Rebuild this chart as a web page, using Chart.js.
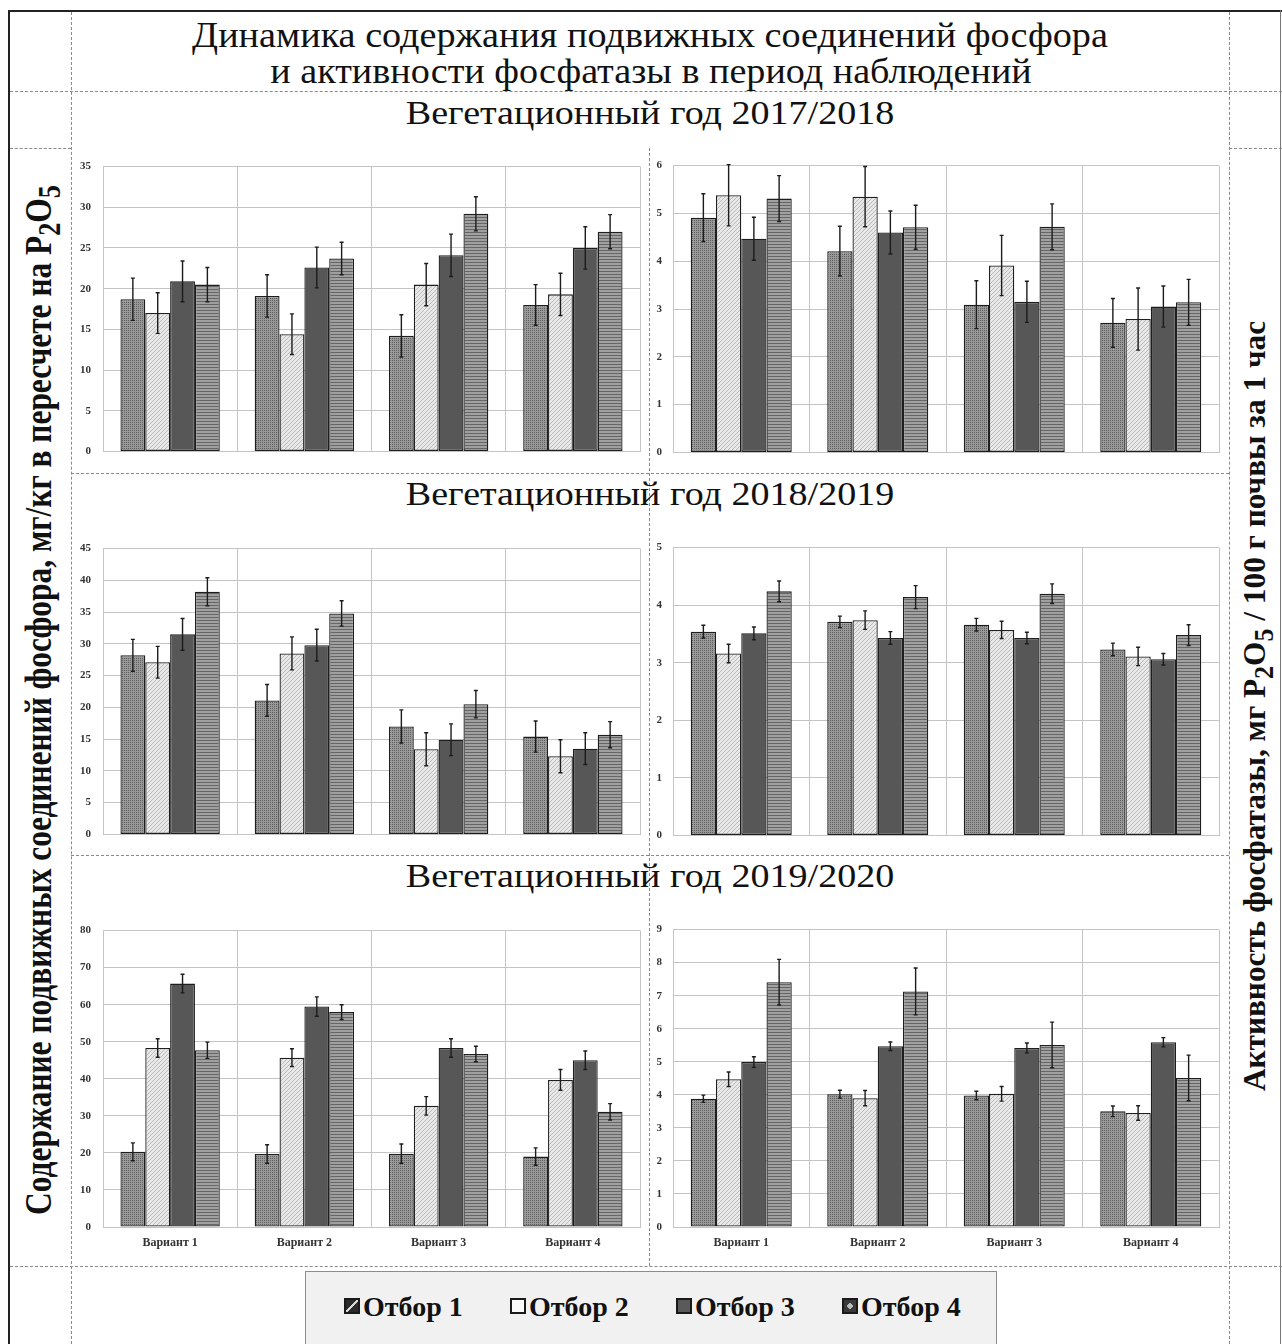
<!DOCTYPE html>
<html>
<head>
<meta charset="utf-8">
<script src="https://cdn.jsdelivr.net/npm/chart.js@4.4.1/dist/chart.umd.min.js"></script>
<style>
  body { margin: 0; background: #fff; width: 1282px; height: 1344px; position: relative; overflow: hidden; font-family: "Liberation Serif", "Times New Roman", serif; }
  canvas { position: absolute; }
  .t { position: absolute; white-space: nowrap; line-height: 1; color: #111; transform-origin: center; }
  .b { font-weight: bold; }
  .hd { position: absolute; height: 0; border-top: 1px dashed #8a8a8a; }
  .vd { position: absolute; width: 0; border-left: 1px dashed #8a8a8a; }
  #legend { position: absolute; left: 305px; top: 1271px; width: 690px; height: 72px; background: #f1f1f1; border: 1px solid #8c8c8c; }
  .item { position: absolute; top: 21px; font-weight: bold; font-size: 28px; line-height: 1; white-space: nowrap; color: #111; }
  .ico { display: inline-block; width: 12px; height: 12px; margin-right: 3px; vertical-align: 2px; border: 2px solid #1a1a1a; }
</style>
</head>
<body>

<!-- outer frame -->
<div style="position:absolute;left:9px;top:10px;width:1273px;height:0;border-top:2px solid #222"></div>
<div style="position:absolute;left:8px;top:10px;width:0;height:1334px;border-left:2px solid #222"></div>
<div style="position:absolute;left:1280px;top:10px;width:0;height:1334px;border-left:1px solid #777"></div>

<!-- dashed cell borders -->
<div class="hd" style="left:10px;top:91px;width:1272px"></div>
<div class="hd" style="left:10px;top:148px;width:61px"></div>
<div class="hd" style="left:1229px;top:148px;width:53px"></div>
<div class="hd" style="left:71px;top:473px;width:1158px"></div>
<div class="hd" style="left:71px;top:855px;width:1158px"></div>
<div class="hd" style="left:10px;top:1266px;width:1272px"></div>
<div class="vd" style="left:71px;top:12px;height:1332px"></div>
<div class="vd" style="left:1229px;top:12px;height:1332px"></div>
<div class="vd" style="left:649px;top:148px;height:1118px"></div>

<!-- titles -->
<div class="t" data-w="916" style="left:650px;top:35px;font-size:36px">Динамика содержания подвижных соединений фосфора</div>
<div class="t" data-w="762" style="left:651px;top:71px;font-size:36px">и активности фосфатазы в период наблюдений</div>
<div class="t" data-w="489" style="left:650px;top:113px;font-size:33px">Вегетационный год 2017/2018</div>
<div class="t" data-w="489" style="left:650px;top:494px;font-size:33px">Вегетационный год 2018/2019</div>
<div class="t" data-w="489" style="left:650px;top:876px;font-size:33px">Вегетационный год 2019/2020</div>

<div class="t b" data-w="1030" data-rot="1" data-ky="1.35" style="left:43px;top:700px;font-size:28px">Содержание подвижных соединений фосфора, мг/кг в пересчете на P<sub>2</sub>O<sub>5</sub></div>
<div class="t b" data-w="770" data-rot="1" data-ky="1.3" style="left:1258px;top:706px;font-size:25px">Активность фосфатазы, мг P<sub>2</sub>O<sub>5</sub> / 100 г почвы за 1 час</div>

<canvas id="c1" width="575" height="322" style="left:70px;top:148px"></canvas>
<canvas id="c2" width="575" height="322" style="left:650px;top:148px"></canvas>
<canvas id="c3" width="575" height="323" style="left:70px;top:530px"></canvas>
<canvas id="c4" width="575" height="323" style="left:650px;top:530px"></canvas>
<canvas id="c5" width="575" height="342" style="left:70px;top:912px"></canvas>
<canvas id="c6" width="575" height="342" style="left:650px;top:912px"></canvas>

<div id="legend"></div>

<script>
const variants = ['Вариант 1', 'Вариант 2', 'Вариант 3', 'Вариант 4'];
const samplings = ['Отбор 1', 'Отбор 2', 'Отбор 3', 'Отбор 4'];

// rows = Отбор 1..4, columns = Вариант 1..4
// подвижный фосфор, мг/кг P2O5
const phosphorus1718 = [
    [18.7, 19.1, 14.2, 18.0],
    [17.0, 14.4, 20.5, 19.3],
    [20.9, 22.6, 24.1, 25.0],
    [20.5, 23.7, 29.2, 27.0]
];
const phosphorus1718Err = [
    [2.6, 2.6, 2.6, 2.5],
    [2.5, 2.5, 2.6, 2.6],
    [2.5, 2.5, 2.6, 2.6],
    [2.1, 2.0, 2.1, 2.1]
];
const phosphorus1819 = [
    [28.2, 21.1, 17.0, 15.4],
    [27.1, 28.5, 13.4, 12.3],
    [31.5, 29.8, 14.9, 13.5],
    [38.2, 34.8, 20.5, 15.7]
];
const phosphorus1819Err = [
    [2.5, 2.5, 2.6, 2.45],
    [2.5, 2.6, 2.6, 2.6],
    [2.5, 2.5, 2.5, 2.5],
    [2.2, 2.0, 2.15, 2.05]
];
const phosphorus1920 = [
    [20.3, 19.7, 19.8, 19.0],
    [48.3, 45.7, 32.7, 39.7],
    [65.7, 59.5, 48.3, 45.0],
    [47.7, 58.0, 46.7, 31.1]
];
const phosphorus1920Err = [
    [2.4, 2.5, 2.6, 2.35],
    [2.5, 2.4, 2.5, 2.8],
    [2.5, 2.6, 2.5, 2.5],
    [2.2, 2.0, 2.1, 2.2]
];

// активность фосфатазы, мг P2O5 / 100 г почвы за 1 час
const phosphatase1718 = [
    [4.91, 4.21, 3.09, 2.71],
    [5.38, 5.35, 3.91, 2.79],
    [4.47, 4.60, 3.15, 3.05],
    [5.31, 4.71, 4.72, 3.14]
];
const phosphatase1718Err = [
    [0.50, 0.52, 0.50, 0.51],
    [0.64, 0.63, 0.63, 0.65],
    [0.45, 0.45, 0.43, 0.43],
    [0.48, 0.46, 0.48, 0.48]
];
const phosphatase1819 = [
    [3.54, 3.71, 3.66, 3.23],
    [3.16, 3.74, 3.57, 3.11],
    [3.51, 3.43, 3.43, 3.06],
    [4.24, 4.14, 4.20, 3.48]
];
const phosphatase1819Err = [
    [0.11, 0.10, 0.11, 0.11],
    [0.16, 0.16, 0.15, 0.16],
    [0.11, 0.11, 0.10, 0.10],
    [0.18, 0.20, 0.17, 0.18]
];
const phosphatase1920 = [
    [3.88, 4.02, 3.98, 3.50],
    [4.47, 3.90, 4.03, 3.45],
    [4.99, 5.47, 5.42, 5.59],
    [7.41, 7.13, 5.51, 4.51]
];
const phosphatase1920Err = [
    [0.11, 0.12, 0.13, 0.16],
    [0.22, 0.23, 0.22, 0.22],
    [0.16, 0.13, 0.15, 0.14],
    [0.69, 0.71, 0.69, 0.69]
];

// --- fit the html titles to the widths seen in the picture
document.querySelectorAll('[data-w]').forEach(el => {
    const k = +el.dataset.w / el.offsetWidth;
    const ky = el.dataset.ky || 1;
    el.style.transform = 'translate(-50%,-50%)' + (el.dataset.rot ? ' rotate(-90deg)' : '') + ` scale(${k}, ${el.dataset.rot ? ky : 1})`;
});

// --- hatch fills like the Excel pattern bars
function tile(w, h, bg, fg, pixels) {
    const c = document.createElement('canvas');
    c.width = w; c.height = h;
    const g = c.getContext('2d');
    g.fillStyle = bg; g.fillRect(0, 0, w, h);
    g.fillStyle = fg;
    pixels.forEach(p => g.fillRect(p[0], p[1], 1, 1));
    return g.createPattern(c, 'repeat');
}
const fills = [
    tile(4, 4, '#999999', '#5e5e5e', [[0, 0], [2, 2], [2, 0], [0, 2]]),
    tile(4, 4, '#e8e8e8', '#bababa', [[0, 3], [1, 2], [2, 1], [3, 0]]),
    '#575757',
    tile(4, 3, '#a0a0a0', '#666666', [[0, 0], [1, 0], [2, 0], [3, 0]])
];

const errorBars = {
    id: 'errorBars',
    afterDatasetsDraw(chart) {
        const ctx = chart.ctx;
        const y = chart.scales.y;
        ctx.save();
        ctx.strokeStyle = '#1c1c1c';
        ctx.lineWidth = 1.4;
        chart.data.datasets.forEach((ds, i) => {
            chart.getDatasetMeta(i).data.forEach((bar, j) => {
                const v = ds.data[j], e = ds.errors[j];
                const top = y.getPixelForValue(v + e);
                const bot = y.getPixelForValue(v - e);
                ctx.beginPath();
                ctx.moveTo(bar.x, top); ctx.lineTo(bar.x, bot);
                ctx.moveTo(bar.x - 2, top); ctx.lineTo(bar.x + 2, top);
                ctx.moveTo(bar.x - 2, bot); ctx.lineTo(bar.x + 2, bot);
                ctx.stroke();
            });
        });
        ctx.restore();
    }
};

function drawPanel(id, values, errors, maxY, stepY, leftSide, showNames) {
    new Chart(document.getElementById(id), {
        type: 'bar',
        data: {
            labels: variants,
            datasets: samplings.map((name, i) => ({
                label: name,
                data: values[i],
                errors: errors[i],
                backgroundColor: fills[i],
                borderColor: '#1e1e1e',
                borderWidth: 1.3,
                borderSkipped: false,
                categoryPercentage: 0.74,
                barPercentage: 1.0
            }))
        },
        options: {
            responsive: false,
            animation: false,
            devicePixelRatio: 1,
            layout: { padding: { top: 8, right: leftSide ? 5 : 6, bottom: showNames ? 0 : 8, left: 0 } },
            plugins: { legend: { display: false }, tooltip: { enabled: false } },
            scales: {
                x: {
                    grid: { color: '#c4c4c4', offset: true, drawTicks: false },
                    border: { color: '#c4c4c4' },
                    ticks: {
                        display: showNames,
                        color: '#333',
                        padding: 9,
                        font: { family: 'Liberation Serif', size: 12, weight: 'bold' }
                    },
                    afterFit: s => { s.height = showNames ? 27 : 0; }
                },
                y: {
                    min: 0,
                    max: maxY,
                    grid: { color: '#c4c4c4', drawTicks: false },
                    border: { color: '#c4c4c4' },
                    ticks: {
                        stepSize: stepY,
                        color: '#333',
                        padding: leftSide ? 12 : 11,
                        font: { family: 'Liberation Serif', size: 11, weight: 'bold' }
                    },
                    afterFit: s => { s.width = leftSide ? 33 : 23; }
                }
            }
        },
        plugins: [errorBars]
    });
}

drawPanel('c1', phosphorus1718, phosphorus1718Err, 35, 5, true, false);
drawPanel('c2', phosphatase1718, phosphatase1718Err, 6, 1, false, false);
drawPanel('c3', phosphorus1819, phosphorus1819Err, 45, 5, true, false);
drawPanel('c4', phosphatase1819, phosphatase1819Err, 5, 1, false, false);
drawPanel('c5', phosphorus1920, phosphorus1920Err, 80, 10, true, true);
drawPanel('c6', phosphatase1920, phosphatase1920Err, 9, 1, false, true);

// --- legend
const icons = [
    'background:#2b2b2b linear-gradient(135deg, transparent 42%, #d8d8d8 42%, #d8d8d8 58%, transparent 58%)',
    'background:#fafafa',
    'background:#5a5a5a',
    'background:#3a3a3a radial-gradient(circle, #bbbbbb 30%, transparent 32%)'
];
const legend = document.getElementById('legend');
samplings.forEach((name, i) => {
    const item = document.createElement('div');
    item.className = 'item';
    item.style.left = (38 + i * 166) + 'px';
    item.innerHTML = `<span class="ico" style="${icons[i]}"></span>${name}`;
    legend.appendChild(item);
});
</script>
</body>
</html>
